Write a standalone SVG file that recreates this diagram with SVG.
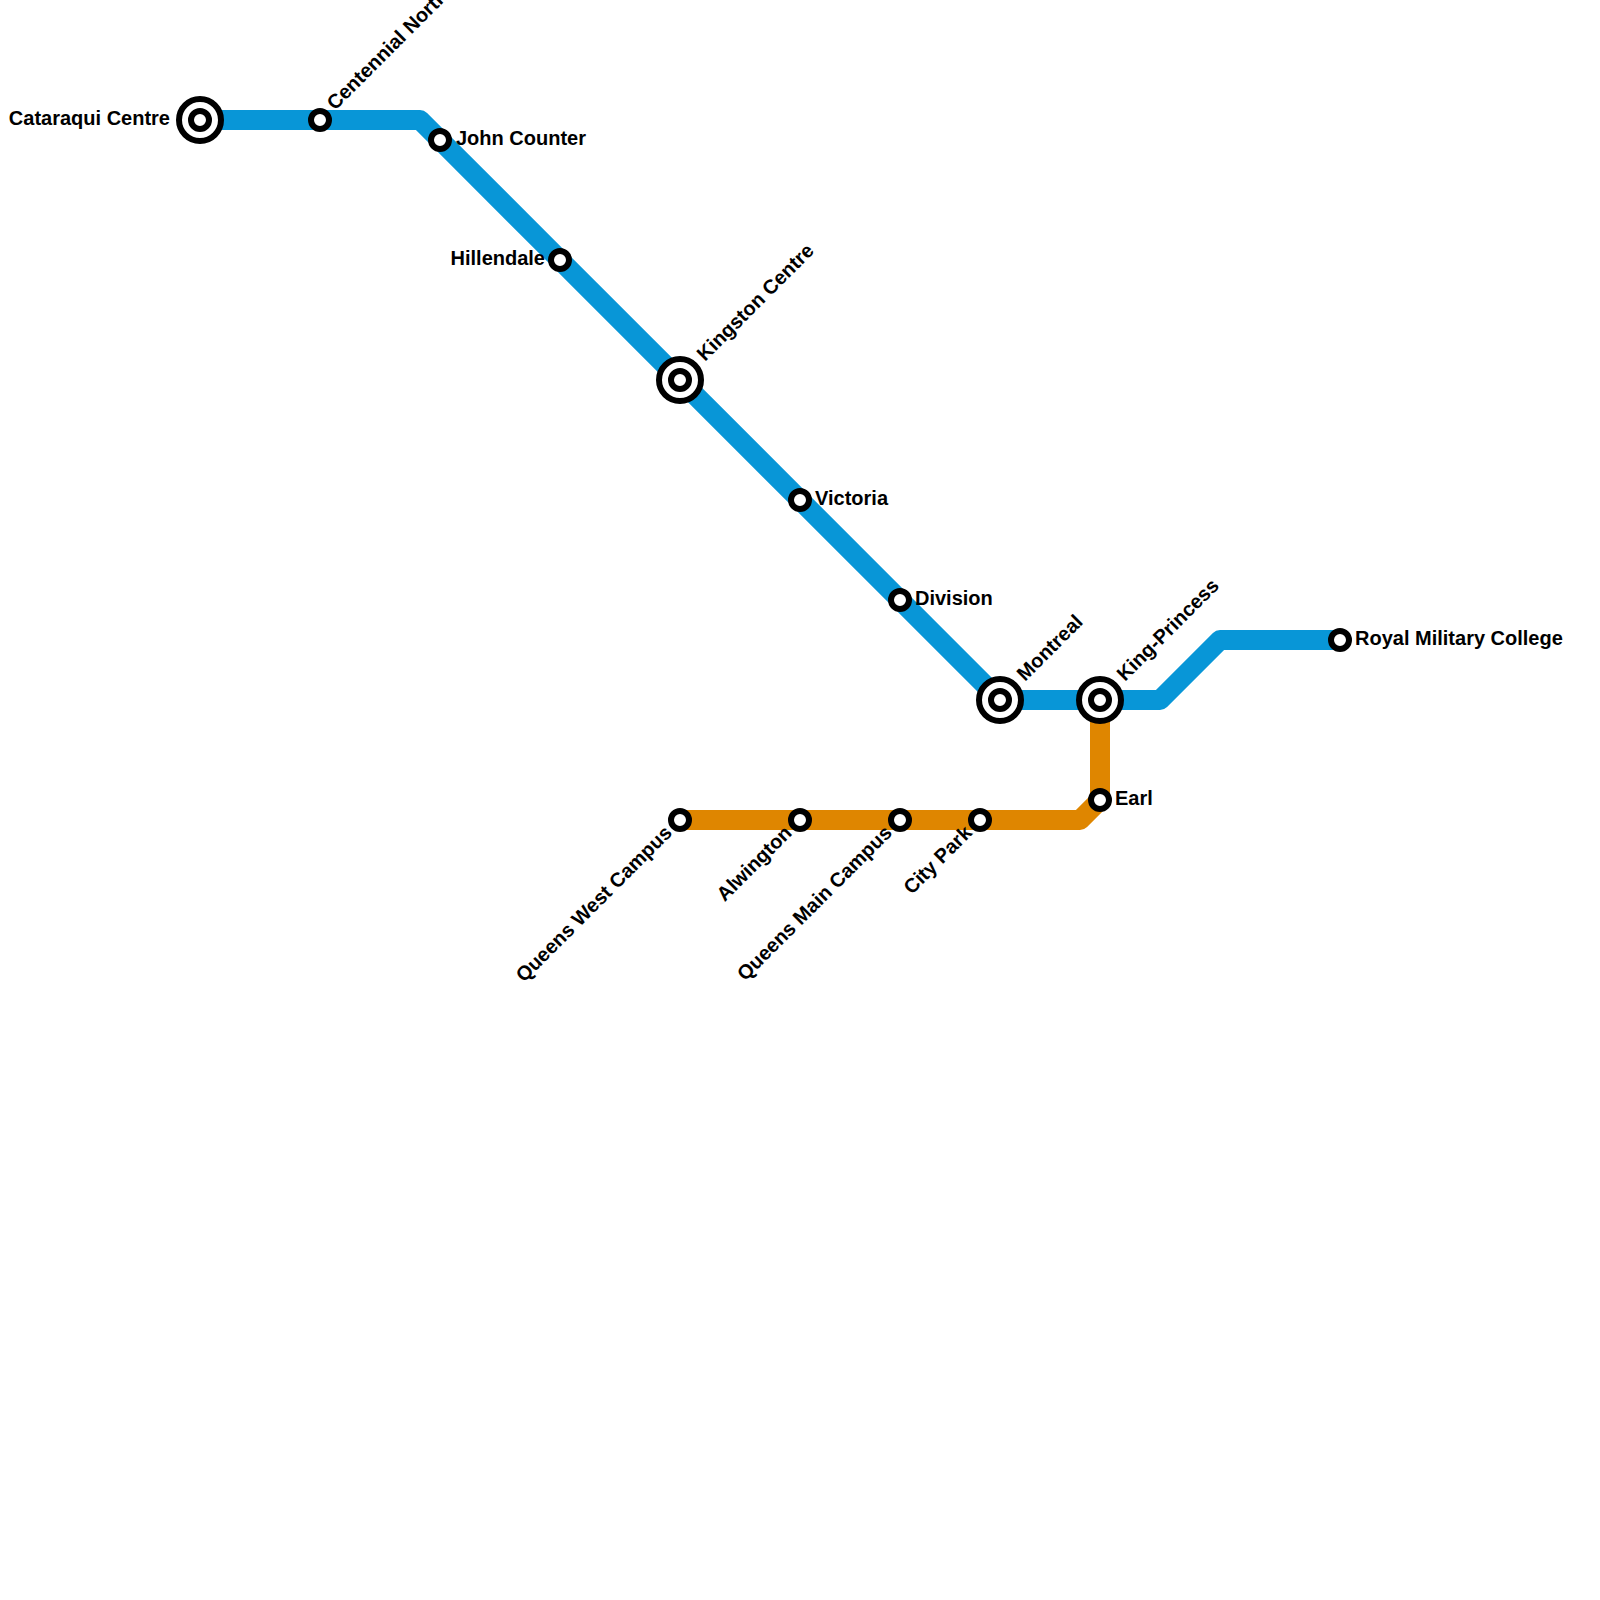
<svg xmlns="http://www.w3.org/2000/svg" width="1600" height="1600" viewBox="0 0 1600 1600">
<style>
.line{fill:none;stroke-width:20;stroke-linejoin:round;stroke-linecap:butt}
.st{fill:#fff;stroke:#000;stroke-width:6}
text{font-family:"Liberation Sans",Arial,sans-serif;font-weight:700;font-size:20px;fill:#000}
.e{text-anchor:end}
</style>
<rect width="1600" height="1600" fill="#fff"/>
<g id="connectors">
<path class="line" stroke="#df8600" d="M680 820H1080L1100 800V700"/>
<path class="line" stroke="#0896d7" d="M200 120H420L1000 700H1160L1220 640H1340"/>
</g>
<g id="cataraqui-centre"><circle class="st" cx="200" cy="120" r="21"/><circle class="st" cx="200" cy="120" r="9"/><text class="e" x="170" y="125">Cataraqui Centre</text></g>
<g id="centennial-north"><circle class="st" cx="320" cy="120" r="9"/><text transform="translate(335 111) rotate(-45)">Centennial North</text></g>
<g id="john-counter"><circle class="st" cx="440" cy="140" r="9"/><text x="456" y="145">John Counter</text></g>
<g id="hillendale"><circle class="st" cx="560" cy="260" r="9"/><text class="e" x="545" y="265">Hillendale</text></g>
<g id="kingston-centre"><circle class="st" cx="680" cy="380" r="21"/><circle class="st" cx="680" cy="380" r="9"/><text transform="translate(705 362) rotate(-45)">Kingston Centre</text></g>
<g id="victoria"><circle class="st" cx="800" cy="500" r="9"/><text x="815" y="505">Victoria</text></g>
<g id="division"><circle class="st" cx="900" cy="600" r="9"/><text x="915" y="605">Division</text></g>
<g id="montreal"><circle class="st" cx="1000" cy="700" r="21"/><circle class="st" cx="1000" cy="700" r="9"/><text transform="translate(1025 682) rotate(-45)">Montreal</text></g>
<g id="king-princess"><circle class="st" cx="1100" cy="700" r="21"/><circle class="st" cx="1100" cy="700" r="9"/><text transform="translate(1125 682) rotate(-45)">King-Princess</text></g>
<g id="royal-military-college"><circle class="st" cx="1340" cy="640" r="9"/><text x="1355" y="645">Royal Military College</text></g>
<g id="earl"><circle class="st" cx="1100" cy="800" r="9"/><text x="1115" y="805">Earl</text></g>
<g id="queens-west-campus"><circle class="st" cx="680" cy="820" r="9"/><text class="e" transform="translate(673 834) rotate(-45)">Queens West Campus</text></g>
<g id="alwington"><circle class="st" cx="800" cy="820" r="9"/><text class="e" transform="translate(793 834) rotate(-45)">Alwington</text></g>
<g id="queens-main-campus"><circle class="st" cx="900" cy="820" r="9"/><text class="e" transform="translate(893 834) rotate(-45)">Queens Main Campus</text></g>
<g id="city-park"><circle class="st" cx="980" cy="820" r="9"/><text class="e" transform="translate(973 834) rotate(-45)">City Park</text></g>
</svg>
